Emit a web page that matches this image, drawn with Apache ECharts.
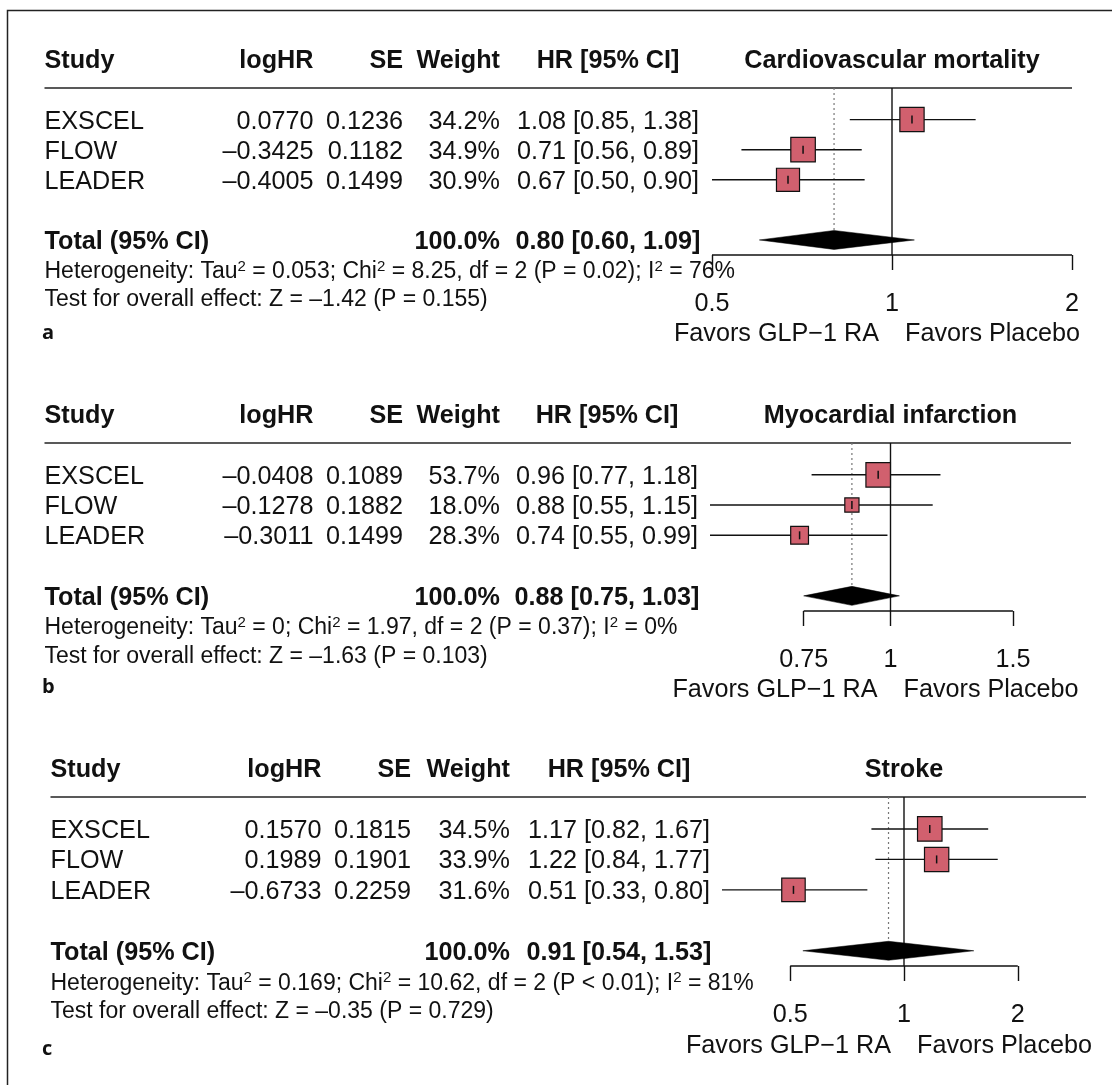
<!DOCTYPE html>
<html>
<head>
<meta charset="utf-8">
<script src="https://cdn.jsdelivr.net/npm/echarts@6/dist/echarts.min.js"></script>
<style>
html, body { margin: 0; padding: 0; background: #ffffff; }
#chart { width: 1112px; height: 1085px; }
</style>
</head>
<body>
<div id="chart"></div>
<script>
// ---------------- data ----------------
const studies = ['EXSCEL', 'FLOW', 'LEADER'];
const outcomes = ['Cardiovascular mortality', 'Myocardial infarction', 'Stroke'];
const panelLetters = ['a', 'b', 'c'];
const columnHeaders = ['Study', 'logHR', 'SE', 'Weight', 'HR [95% CI]'];
const totalLabel = 'Total (95% CI)';
const logHR = [['0.0770', '–0.3425', '–0.4005'], ['–0.0408', '–0.1278', '–0.3011'], ['0.1570', '0.1989', '–0.6733']];
const seHR = [['0.1236', '0.1182', '0.1499'], ['0.1089', '0.1882', '0.1499'], ['0.1815', '0.1901', '0.2259']];
const weights = [[34.2, 34.9, 30.9], [53.7, 18.0, 28.3], [34.5, 33.9, 31.6]];
const hrEst = [[1.08, 0.71, 0.67], [0.96, 0.88, 0.74], [1.17, 1.22, 0.51]];
const hrLow = [[0.85, 0.56, 0.50], [0.77, 0.55, 0.55], [0.82, 0.84, 0.33]];
const hrHigh = [[1.38, 0.89, 0.90], [1.18, 1.15, 0.99], [1.67, 1.77, 0.80]];
const totalWeight = [100.0, 100.0, 100.0];
const totalEst = [0.80, 0.88, 0.91];
const totalLow = [0.60, 0.75, 0.54];
const totalHigh = [1.09, 1.03, 1.53];
const tau2 = ['0.053', '0', '0.169'];
const chi2 = ['8.25', '1.97', '10.62'];
const dfHet = ['2', '2', '2'];
const pHet = ['P = 0.02', 'P = 0.37', 'P < 0.01'];
const i2 = ['76%', '0%', '81%'];
const zOverall = ['–1.42', '–1.63', '–0.35'];
const pOverall = ['0.155', '0.103', '0.729'];
const tickValues = [[0.5, 1, 2], [0.75, 1, 1.5], [0.5, 1, 2]];
const xLimits = [[0.5, 2], [0.55, 1 / 0.55], [0.33, 1 / 0.33]];
const favorsLabels = ['Favors GLP−1 RA', 'Favors Placebo'];

// ---------------- layout / style ----------------
const FONT = '"Liberation Sans", Arial, Helvetica, sans-serif';
const INK = '#111111';
const FS = 25.2;
const FS_SMALL = 23.0;
const TEXT_DY = 2;
const SQUARE = '#D1606E';
const MAX_BOX = 24.5;
const DIAMOND_HALF = 9.5;
const Y_MIN = -0.05, Y_MAX = 5.5;
const ROW = { header: -1, total: 5, het: 6, test: 6.93, favors: 8.05 };
const panels = [
  { top: 88, height: 167, left: 712, width: 360, col: [44.5, 313.5, 403, 500, 608], letterY: 333.5 },
  { top: 443, height: 168, left: 710, width: 361, col: [44.5, 313.5, 403, 500, 607], letterY: 687.6 },
  { top: 797, height: 169, left: 722, width: 364, col: [50.5, 321.5, 411, 510, 619], letterY: 1049.6 }
];

const ln = Math.log;
const fmtHR = (e, l, h) => e.toFixed(2) + ' [' + l.toFixed(2) + ', ' + h.toFixed(2) + ']';
const fmtTick = v => String(parseFloat(Math.exp(v).toFixed(2)));

function txt(text, x, y, align, bold, size, extra) {
  const style = {
    text: text, fill: INK, fontFamily: FONT, fontSize: size || FS,
    fontWeight: bold ? 'bold' : 'normal', align: align, verticalAlign: 'middle'
  };
  if (extra) Object.assign(style, extra);
  return { type: 'text', x: x, y: y + TEXT_DY, style: style };
}

function tableRender(i) {
  const p = panels[i];
  const c = p.col;
  return function (params, api) {
    const yOf = k => api.coord([0, k])[1];
    const xOne = api.coord([0, 0])[0];
    const els = [];
    // header row
    els.push(txt(columnHeaders[0], c[0], yOf(ROW.header), 'left', true));
    els.push(txt(columnHeaders[1], c[1], yOf(ROW.header), 'right', true));
    els.push(txt(columnHeaders[2], c[2], yOf(ROW.header), 'right', true));
    els.push(txt(columnHeaders[3], c[3], yOf(ROW.header), 'right', true));
    els.push(txt(columnHeaders[4], c[4], yOf(ROW.header), 'center', true));
    els.push(txt(outcomes[i], xOne, yOf(ROW.header), 'center', true));
    // study rows
    studies.forEach((s, j) => {
      const y = yOf(j + 1);
      els.push(txt(s, c[0], y, 'left'));
      els.push(txt(logHR[i][j], c[1], y, 'right'));
      els.push(txt(seHR[i][j], c[2], y, 'right'));
      els.push(txt(weights[i][j].toFixed(1) + '%', c[3], y, 'right'));
      els.push(txt(fmtHR(hrEst[i][j], hrLow[i][j], hrHigh[i][j]), c[4], y, 'center'));
    });
    // total
    const yt = yOf(ROW.total);
    els.push(txt(totalLabel, c[0], yt, 'left', true));
    els.push(txt(totalWeight[i].toFixed(1) + '%', c[3], yt, 'right', true));
    els.push(txt(fmtHR(totalEst[i], totalLow[i], totalHigh[i]), c[4], yt, 'center', true));
    // heterogeneity
    const het = 'Heterogeneity: Tau{sup|2} = ' + tau2[i] + '; Chi{sup|2} = ' + chi2[i] +
      ', df = ' + dfHet[i] + ' (' + pHet[i] + '); I{sup|2} = ' + i2[i];
    els.push(txt(het, c[0], yOf(ROW.het), 'left', false, FS_SMALL, {
      lineHeight: 26,
      rich: { sup: { fontSize: 15, fontFamily: FONT, fill: INK, verticalAlign: 'top' } }
    }));
    els.push(txt('Test for overall effect: Z = ' + zOverall[i] + ' (P = ' + pOverall[i] + ')',
      c[0], yOf(ROW.test), 'left', false, FS_SMALL));
    // favours labels around the line of no effect
    els.push(txt(favorsLabels[0], xOne - 13, yOf(ROW.favors), 'right'));
    els.push(txt(favorsLabels[1], xOne + 13, yOf(ROW.favors), 'left'));
    // panel letter
    els.push({
      type: 'text', x: 42, y: p.letterY,
      style: { text: panelLetters[i], fill: INK, fontFamily: '"Open Sans", Lato, sans-serif',
        fontSize: 20, fontWeight: 'bold', align: 'left', verticalAlign: 'middle' }
    });
    return { type: 'group', children: els };
  };
}

function guidesRender(i) {
  const p = panels[i];
  return function (params, api) {
    const top = api.coord([0, Y_MIN]);
    const bottom = api.coord([0, Y_MAX]);
    const pooled = api.coord([ln(totalEst[i]), ROW.total]);
    const aL = api.coord([ln(tickValues[i][0]), Y_MAX]);
    const aR = api.coord([ln(tickValues[i][tickValues[i].length - 1]), Y_MAX]);
    const gridRight = api.coord([ln(xLimits[i][1]), Y_MIN])[0];
    return {
      type: 'group',
      children: [
        { type: 'line', shape: { x1: p.col[0], y1: top[1], x2: gridRight, y2: top[1] },
          style: { stroke: '#222', lineWidth: 1.4 } },
        { type: 'line', shape: { x1: top[0], y1: top[1], x2: bottom[0], y2: bottom[1] },
          style: { stroke: INK, lineWidth: 1.4 } },
        { type: 'line', shape: { x1: pooled[0], y1: top[1], x2: pooled[0], y2: pooled[1] - DIAMOND_HALF },
          style: { stroke: '#777', lineWidth: 1.2, lineDash: [2, 3] } },
        { type: 'line', shape: { x1: aL[0], y1: aL[1], x2: aR[0], y2: aR[1] },
          style: { stroke: INK, lineWidth: 1.4 } }
      ]
    };
  };
}

function studyRender(i) {
  const wmax = Math.max.apply(null, weights[i]);
  return function (params, api) {
    const k = api.value(1);
    const c = api.coord([api.value(0), k]);
    const lo = api.coord([api.value(2), k]);
    const hi = api.coord([api.value(3), k]);
    const s = MAX_BOX * Math.sqrt(api.value(4) / wmax);
    return {
      type: 'group',
      children: [
        { type: 'line', shape: { x1: lo[0], y1: c[1], x2: hi[0], y2: c[1] },
          style: { stroke: INK, lineWidth: 1.4 } },
        { type: 'rect', shape: { x: c[0] - s / 2, y: c[1] - s / 2, width: s, height: s },
          style: { fill: SQUARE, stroke: INK, lineWidth: 1.2 } },
        { type: 'line', shape: { x1: c[0], y1: c[1] - 4, x2: c[0], y2: c[1] + 4 },
          style: { stroke: INK, lineWidth: 1.5 } }
      ]
    };
  };
}

function diamondRender(params, api) {
  const k = api.value(1);
  const c = api.coord([api.value(0), k]);
  const lo = api.coord([api.value(2), k]);
  const hi = api.coord([api.value(3), k]);
  return {
    type: 'polygon',
    shape: { points: [[lo[0], c[1]], [c[0], c[1] - DIAMOND_HALF], [hi[0], c[1]], [c[0], c[1] + DIAMOND_HALF]] },
    style: { fill: '#000', stroke: '#000', lineWidth: 0.5 }
  };
}

const series = [];
panels.forEach((p, i) => {
  series.push({
    type: 'custom', name: 'guides' + i, xAxisIndex: i, yAxisIndex: i, z: 1, silent: true,
    renderItem: guidesRender(i), data: [[0, 0]], encode: { x: 0, y: 1 }
  });
  series.push({
    type: 'custom', name: 'table' + i, xAxisIndex: i, yAxisIndex: i, z: 2, silent: true,
    renderItem: tableRender(i), data: [[0, 0]], encode: { x: 0, y: 1 }
  });
  series.push({
    type: 'custom', name: 'studies' + i, xAxisIndex: i, yAxisIndex: i, z: 3, silent: true,
    renderItem: studyRender(i),
    data: studies.map((s, j) => [ln(hrEst[i][j]), j + 1, ln(hrLow[i][j]), ln(hrHigh[i][j]), weights[i][j]]),
    encode: { x: 0, y: 1 }
  });
  series.push({
    type: 'custom', name: 'total' + i, xAxisIndex: i, yAxisIndex: i, z: 3, silent: true,
    renderItem: diamondRender,
    data: [[ln(totalEst[i]), ROW.total, ln(totalLow[i]), ln(totalHigh[i])]],
    encode: { x: 0, y: 1 }
  });
});

const chart = echarts.init(document.getElementById('chart'), null, { renderer: 'canvas' });
chart.setOption({
  animation: false,
  backgroundColor: '#ffffff',
  graphic: [{
    type: 'rect', z: 0, silent: true,
    shape: { x: 7.5, y: 10.5, width: 1300, height: 1300 },
    style: { fill: 'none', stroke: '#222', lineWidth: 1.5 }
  }],
  grid: panels.map(p => ({ left: p.left, top: p.top, width: p.width, height: p.height,
    containLabel: false, outerBoundsMode: 'none' })),
  xAxis: panels.map((p, i) => ({
    gridIndex: i, type: 'value', position: 'bottom',
    min: ln(xLimits[i][0]), max: ln(xLimits[i][1]),
    axisLine: { show: false, onZero: false }, splitLine: { show: false },
    axisTick: { show: true, customValues: tickValues[i].map(ln), length: 15, inside: false,
      lineStyle: { color: INK, width: 1.4 } },
    axisLabel: { show: true, customValues: tickValues[i].map(ln), formatter: fmtTick, margin: 37,
      fontSize: FS, fontFamily: FONT, color: INK }
  })),
  yAxis: panels.map((p, i) => ({
    gridIndex: i, type: 'value', inverse: true, min: Y_MIN, max: Y_MAX, show: false
  })),
  series: series
});
</script>
</body>
</html>
